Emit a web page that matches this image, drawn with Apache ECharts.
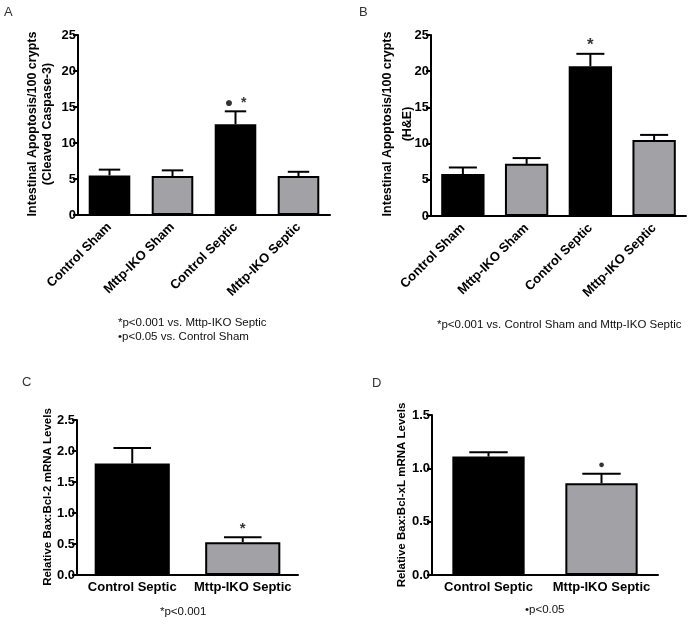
<!DOCTYPE html>
<html><head><meta charset="utf-8">
<script src="https://cdn.jsdelivr.net/npm/echarts@6/dist/echarts.min.js"></script>
<style>html,body{margin:0;padding:0;background:#fff}#c{width:691px;height:625px}</style>
</head><body><div id="c"></div>
<script>
var catsAB = ['Control Sham', 'Mttp-IKO Sham', 'Control Septic', 'Mttp-IKO Septic'];
var meanA = [5.5, 5.4, 12.6, 5.4];
var errA = [6.3, 6.2, 14.4, 6.0];
var meanB = [5.8, 7.2, 20.7, 10.5];
var errB = [6.7, 8.0, 22.4, 11.2];
var catsCD = ['Control Septic', 'Mttp-IKO Septic'];
var meanC = [1.8, 0.53];
var errC = [2.05, 0.61];
var meanD = [1.11, 0.86];
var errD = [1.15, 0.95];
var ticksAB = [0, 5, 10, 15, 20, 25];
var ticksC = [0, 0.5, 1.0, 1.5, 2.0, 2.5];
var ticksD = [0, 0.5, 1.0, 1.5];
var annA = [[2, 15.6, '\u25CF  *']];
var annB = [[2, 23.6, '*']];
var annC = [[1, 0.74, '*']];
var annD = [[1, 1.03, '\u25CF']];

var BLACK = '#000000', GRAY = '#a2a2a6';
var FONT = '"Liberation Sans", Arial, sans-serif';

var grids = [
  {left: 78, top: 35, width: 252, height: 180},
  {left: 431, top: 35, width: 255, height: 181},
  {left: 77, top: 420, width: 221, height: 155},
  {left: 432, top: 415, width: 226, height: 160}
];

function xAx(i, cats, rotate) {
  return {
    type: 'category', gridIndex: i, data: cats,
    axisLine: {lineStyle: {color: '#000', width: 2}},
    axisTick: {alignWithLabel: true, length: 6, lineStyle: {color: '#000', width: 2}},
    axisLabel: {rotate: rotate, margin: rotate ? 10 : 6, color: '#000', fontFamily: FONT, fontWeight: 'bold', fontSize: 13, interval: 0}
  };
}
function yAx(i, max, interval, digits) {
  return {
    type: 'value', gridIndex: i, min: 0, max: max, interval: interval,
    splitLine: {show: false},
    axisLine: {show: true, lineStyle: {color: '#000', width: 2}},
    axisTick: {show: true, length: 5, lineStyle: {color: '#000', width: 2}},
    axisLabel: {margin: 2, color: '#000', fontFamily: FONT, fontWeight: 'bold', fontSize: 13,
      formatter: function (v) { return digits ? v.toFixed(digits) : String(v); }}
  };
}
function bars(i, means, colors, bw) {
  return {
    type: 'bar', xAxisIndex: i, yAxisIndex: i, barWidth: bw, z: 3,
    data: means.map(function (v, k) {
      return {value: v, itemStyle: {color: colors[k], borderColor: '#000', borderWidth: 2}};
    })
  };
}
function errs(i, means, tops, capFrac) {
  return {
    type: 'custom', xAxisIndex: i, yAxisIndex: i, z: 2,
    data: means.map(function (v, k) { return [k, v, tops[k]]; }),
    renderItem: function (params, api) {
      var p0 = api.coord([api.value(0), api.value(1)]);
      var p1 = api.coord([api.value(0), api.value(2)]);
      var half = api.size([1, 0])[0] * capFrac;
      var st = {stroke: '#000', lineWidth: 2};
      return {type: 'group', children: [
        {type: 'line', shape: {x1: p0[0], y1: p0[1], x2: p1[0], y2: p1[1]}, style: st},
        {type: 'line', shape: {x1: p1[0] - half, y1: p1[1], x2: p1[0] + half, y2: p1[1]}, style: st}
      ]};
    }
  };
}
function ann(i, arr, size) {
  return {
    type: 'scatter', xAxisIndex: i, yAxisIndex: i, symbolSize: 0, z: 5,
    data: arr.map(function (a) { return {value: [a[0], a[1]], label: {formatter: a[2]}}; }),
    label: {show: true, position: 'inside', color: '#000', fontFamily: FONT, fontWeight: 'bold', fontSize: size}
  };
}
function txt(x, y, s, opts) {
  opts = opts || {};
  return {
    type: 'text', x: x, y: y, rotation: opts.rot || 0,
    style: {text: s, fill: opts.color || '#111', font: (opts.weight || 'normal') + ' ' + (opts.size || 12) + 'px ' + FONT,
      textAlign: opts.align || 'left', textVerticalAlign: 'middle', lineHeight: opts.lh || 14}
  };
}

var chart = echarts.init(document.getElementById('c'), null, {renderer: 'canvas'});
chart.setOption({
  animation: false,
  backgroundColor: '#fff',
  grid: grids,
  xAxis: [xAx(0, catsAB, 45), xAx(1, catsAB, 45), xAx(2, catsCD, 0), xAx(3, catsCD, 0)],
  yAxis: [yAx(0, 25, 5, 0), yAx(1, 25, 5, 0), yAx(2, 2.5, 0.5, 1), yAx(3, 1.5, 0.5, 1)],
  series: [
    bars(0, meanA, [BLACK, GRAY, BLACK, GRAY], '66%'), errs(0, meanA, errA, 0.17), ann(0, annA, 14),
    bars(1, meanB, [BLACK, GRAY, BLACK, GRAY], '68%'), errs(1, meanB, errB, 0.22), ann(1, annB, 17),
    bars(2, meanC, [BLACK, GRAY], '68%'), errs(2, meanC, errC, 0.17), ann(2, annC, 15),
    bars(3, meanD, [BLACK, GRAY], '64%'), errs(3, meanD, errD, 0.17), ann(3, annD, 11)
  ],
  graphic: [
    txt(4, 12, 'A', {size: 13, color: '#333'}),
    txt(359, 12, 'B', {size: 13, color: '#333'}),
    txt(22, 382, 'C', {size: 13, color: '#333'}),
    txt(372, 383, 'D', {size: 13, color: '#333'}),
    txt(40, 124, 'Intestinal Apoptosis/100 crypts\n(Cleaved Caspase-3)', {rot: Math.PI / 2, align: 'center', weight: 'bold', size: 12.5, color: '#000', lh: 15}),
    txt(398, 124, 'Intestinal Apoptosis/100 crypts\n(H&E)', {rot: Math.PI / 2, align: 'center', weight: 'bold', size: 12.5, color: '#000', lh: 20}),
    txt(48, 497, 'Relative Bax:Bcl-2 mRNA Levels', {rot: Math.PI / 2, align: 'center', weight: 'bold', size: 11.5, color: '#000'}),
    txt(402, 495, 'Relative Bax:Bcl-xL mRNA Levels', {rot: Math.PI / 2, align: 'center', weight: 'bold', size: 11.5, color: '#000'}),
    txt(118, 323, '*p<0.001 vs. Mttp-IKO Septic', {size: 11.5}),
    txt(118, 337, '\u2022p<0.05 vs. Control Sham', {size: 11.5}),
    txt(437, 325, '*p<0.001 vs. Control Sham and Mttp-IKO Septic', {size: 11.5}),
    txt(160, 612, '*p<0.001', {size: 11.5}),
    txt(525, 610, '\u2022p<0.05', {size: 11.5})
  ]
});
</script></body></html>
